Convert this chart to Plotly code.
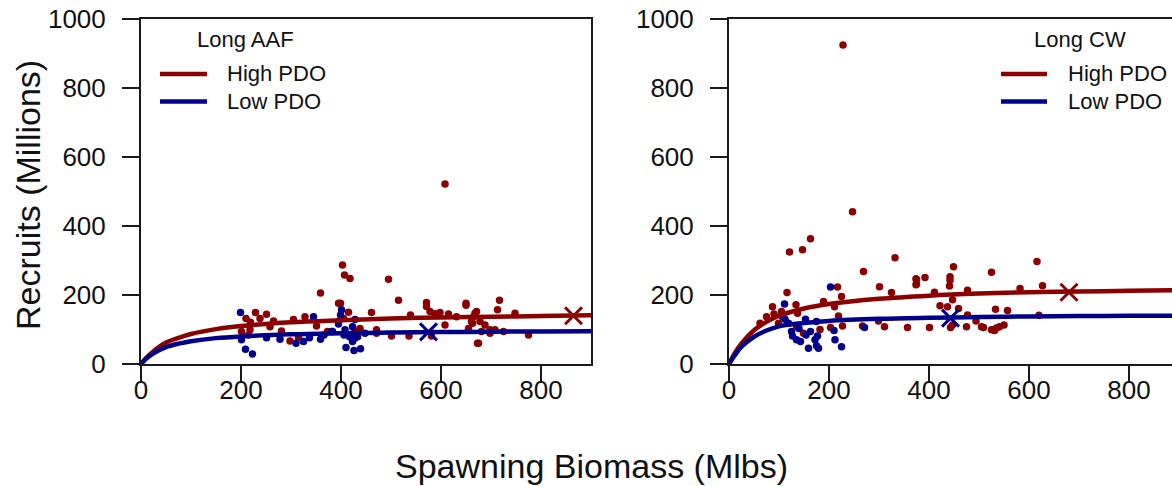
import plotly.graph_objects as go

W, H = 1172, 486
RED = "#8B0000"
BLUE = "#00008B"
FONT = "Liberation Sans, Arial, sans-serif"

# ---------------- data: Long AAF panel ----------------
aaf_high_S = [359, 229, 251, 238, 210, 219, 201, 215, 265, 258, 305, 328, 281, 298, 315, 351, 373, 395, 218,
              403, 407, 418, 495, 515, 399, 415, 461, 405, 438, 428, 471, 471, 501, 536, 539, 571, 571, 578, 588,
              598, 615, 631, 650, 650, 668, 608, 581, 655, 663, 673,
              717, 713, 748, 671, 665, 661, 678, 688, 698, 708, 698, 725, 681, 675, 775, 608]
aaf_high_R = [206, 149, 144, 132, 132, 121, 94, 84, 125, 108, 129, 137, 96, 67, 77, 110, 94, 176, 99,
              287, 258, 248, 246, 185, 176, 150, 149, 132, 103, 96, 99, 89, 81, 81, 142, 178, 167, 152, 146,
              149, 145, 137, 176, 170, 147, 113, 81, 103, 118, 60,
              185, 157, 147, 152, 137, 123, 123, 113, 99, 99, 89, 94, 94, 60, 84, 522]
aaf_low_S = [199, 201, 209, 223, 251, 278, 310, 325, 337, 345, 359, 366, 381, 395,
             401, 399, 395, 383, 408, 428, 423, 417, 427, 423, 410, 426, 439, 433, 448, 406]
aaf_low_R = [149, 70, 43, 29, 76, 72, 60, 65, 76, 137, 72, 84, 94, 116,
             157, 142, 123, 94, 99, 129, 108, 79, 74, 65, 48, 39, 44, 79, 89, 84]

# ---------------- data: Long CW panel ----------------
cw_high_S = [247, 163, 147, 121, 332, 269, 116, 217, 225, 301, 325, 375, 375, 87, 134, 189, 211, 219, 75, 90,
             99, 137, 135, 182, 203, 227, 267, 299, 311, 357, 62, 105, 149,
             616, 449, 442, 442, 441, 374, 374, 392, 525, 627, 582, 477, 411, 447, 422, 437, 459, 477, 533, 557,
             620, 494, 447, 443, 475, 505, 509, 525, 535, 541, 550, 401, 531, 228]
cw_high_R = [441, 363, 331, 325, 308, 268, 207, 223, 196, 224, 207, 245, 232, 166, 172, 181, 166, 139, 137, 145,
             118, 147, 108, 100, 106, 110, 110, 125, 108, 106, 118, 152, 89,
             297, 282, 253, 243, 226, 247, 230, 251, 266, 227, 219, 214, 208, 186, 169, 166, 161, 142, 159, 155,
             141, 125, 113, 106, 108, 108, 106, 99, 104, 108, 113, 106, 97, 925]
cw_low_S = [203, 111, 107, 112, 153, 175, 125, 127, 135, 143, 154, 163, 172, 177, 159, 175, 179, 212, 210, 225,
            271, 140, 119]
cw_low_R = [223, 174, 137, 130, 130, 123, 94, 81, 70, 65, 84, 94, 70, 81, 46, 53, 46, 70, 97, 50,
            106, 103, 118]

# fitted curves
curve_S = [0, 10, 25, 50, 75, 100, 150, 200, 300, 400, 500, 600, 700, 800, 900]
aaf_high_curve = [0, 17, 37, 62, 76, 87, 101, 110, 121, 127, 132, 135, 137, 139, 141]
aaf_low_curve = [0, 15, 31, 49, 59, 66, 75, 80, 86, 89, 91, 92.5, 93.5, 94.5, 95]
cw_high_curve = [0, 28, 60, 98, 122, 140, 161, 174, 189, 198, 204, 208, 210, 212, 214]
cw_low_curve = [0, 22, 50, 79, 97, 109, 119, 125, 131, 134, 136, 138, 139, 139.5, 140]

# "X" reference points
aaf_high_ref = ([865], [140])
aaf_low_ref = ([575], [93])
cw_high_ref = ([680], [208])
cw_low_ref = ([443], [133])

panel_names = ["Long AAF", "Long CW"]
legend_labels = ["High PDO", "Low PDO"]
x_ticks = [0, 200, 400, 600, 800]
y_ticks = [0, 200, 400, 600, 800, 1000]

fig = go.Figure()


def add_panel(xa, ya, hS, hR, lS, lR, hc, lc, href, lref):
    fig.add_trace(go.Scatter(x=hS, y=hR, mode="markers", xaxis=xa, yaxis=ya, showlegend=False,
                             marker=dict(color=RED, size=7.5, line=dict(width=0))))
    fig.add_trace(go.Scatter(x=lS, y=lR, mode="markers", xaxis=xa, yaxis=ya, showlegend=False,
                             marker=dict(color=BLUE, size=7.5, line=dict(width=0))))
    fig.add_trace(go.Scatter(x=curve_S, y=hc, mode="lines", xaxis=xa, yaxis=ya, showlegend=False,
                             line=dict(color=RED, width=4.5, shape="spline")))
    fig.add_trace(go.Scatter(x=curve_S, y=lc, mode="lines", xaxis=xa, yaxis=ya, showlegend=False,
                             line=dict(color=BLUE, width=4.5, shape="spline")))
    fig.add_trace(go.Scatter(x=href[0], y=href[1], mode="markers", xaxis=xa, yaxis=ya, showlegend=False,
                             marker=dict(symbol="x-thin", size=17, color=RED, line=dict(color=RED, width=3))))
    fig.add_trace(go.Scatter(x=lref[0], y=lref[1], mode="markers", xaxis=xa, yaxis=ya, showlegend=False,
                             marker=dict(symbol="x-thin", size=17, color=BLUE, line=dict(color=BLUE, width=3))))


add_panel("x", "y", aaf_high_S, aaf_high_R, aaf_low_S, aaf_low_R, aaf_high_curve, aaf_low_curve,
          aaf_high_ref, aaf_low_ref)
add_panel("x2", "y2", cw_high_S, cw_high_R, cw_low_S, cw_low_R, cw_high_curve, cw_low_curve,
          cw_high_ref, cw_low_ref)


def px_x(p):
    return p / W


def px_y(p):
    return 1 - p / H


ydom = [px_y(364), px_y(19)]
common_axis = dict(showgrid=False, zeroline=False, showline=True, linecolor="#1a1a1a", linewidth=2,
                   ticks="outside", ticklen=17, tickwidth=2, tickcolor="#1a1a1a", automargin=False,
                   tickfont=dict(family=FONT, size=26, color="#111"))

fig.update_layout(
    template="none",
    width=W, height=H, margin=dict(l=0, r=0, t=0, b=0, pad=0), autosize=False,
    paper_bgcolor="white", plot_bgcolor="white", showlegend=False,
    xaxis=dict(common_axis, domain=[px_x(141), px_x(591)], range=[0, 900], tickvals=x_ticks,
               mirror=True, anchor="y", ticklabelstandoff=-15),
    yaxis=dict(common_axis, domain=ydom, range=[0, 1000], tickvals=y_ticks, mirror=True, anchor="x",
               ticklabelstandoff=11),
    xaxis2=dict(common_axis, domain=[px_x(729), 1.0], range=[0, (1172 - 729) * 2], tickvals=x_ticks,
                mirror=True, anchor="y2", ticklabelstandoff=-15),
    yaxis2=dict(common_axis, domain=ydom, range=[0, 1000], tickvals=y_ticks, mirror=False, anchor="x2",
                ticklabelstandoff=11),
)

# axis titles
fig.add_annotation(text="Recruits (Millions)", x=px_x(28), y=px_y(195), xref="paper", yref="paper",
                   xanchor="center", yanchor="middle",
                   textangle=-90, showarrow=False, font=dict(family=FONT, size=34, color="#111"))
fig.add_annotation(text="Spawning Biomass (Mlbs)", x=px_x(591), y=px_y(466), xref="paper", yref="paper",
                   xanchor="center", yanchor="middle",
                   showarrow=False, font=dict(family=FONT, size=34, color="#111"))

# legends
legend_specs = [
    dict(title=panel_names[0], title_cx=246, line_x0=160, line_x1=207, text_x=225),
    dict(title=panel_names[1], title_cx=1080, line_x0=1001, line_x1=1047, text_x=1066),
]
for spec in legend_specs:
    fig.add_annotation(text=spec["title"], x=px_x(spec["title_cx"]), y=px_y(39), xref="paper", yref="paper",
                       showarrow=False, xanchor="center", yanchor="middle",
                       font=dict(family=FONT, size=22, color="#111"))
    for label, color, yy in zip(legend_labels, [RED, BLUE], [74, 101.5]):
        fig.add_shape(type="line", xref="paper", yref="paper", x0=px_x(spec["line_x0"]), x1=px_x(spec["line_x1"]),
                      y0=px_y(yy), y1=px_y(yy), line=dict(color=color, width=4.5), layer="above")
        fig.add_annotation(text=label, x=px_x(spec["text_x"]), y=px_y(yy), xref="paper", yref="paper",
                           showarrow=False, xanchor="left", yanchor="middle",
                           font=dict(family=FONT, size=22, color="#111"))

fig.write_html("out.html", post_script="document.body.style.margin='0';",
               config={"displayModeBar": False})
